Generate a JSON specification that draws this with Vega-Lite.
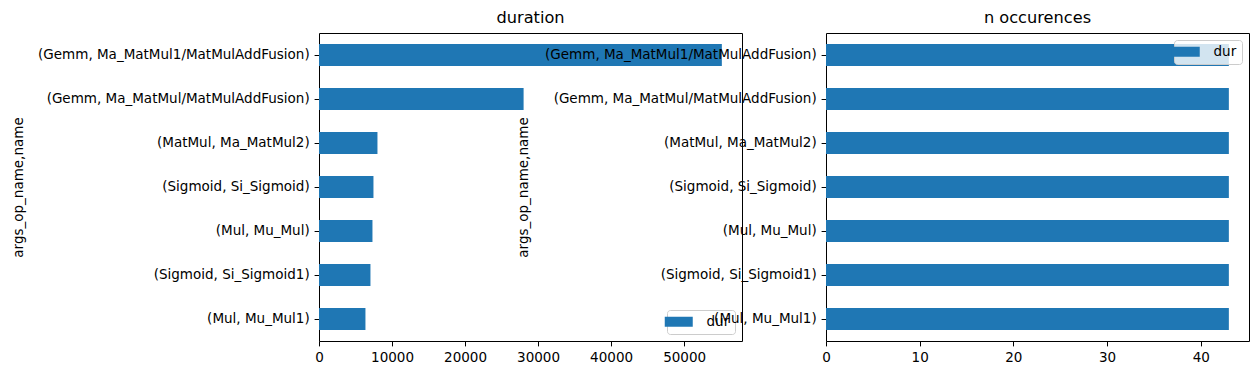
{
  "$schema": "https://vega.github.io/schema/vega-lite/v6.json",
  "autosize": {"type": "pad"},
  "padding": {"left": 10, "top": 9, "right": 5, "bottom": 5},
  "background": "white",
  "data": {
    "values": [
      {"op": "(Gemm, Ma_MatMul1/MatMulAddFusion)", "dur": 55170, "n": 43, "series": "dur"},
      {"op": "(Gemm, Ma_MatMul/MatMulAddFusion)", "dur": 28020, "n": 43, "series": "dur"},
      {"op": "(MatMul, Ma_MatMul2)", "dur": 8006, "n": 43, "series": "dur"},
      {"op": "(Sigmoid, Si_Sigmoid)", "dur": 7458, "n": 43, "series": "dur"},
      {"op": "(Mul, Mu_Mul)", "dur": 7321, "n": 43, "series": "dur"},
      {"op": "(Sigmoid, Si_Sigmoid1)", "dur": 7047, "n": 43, "series": "dur"},
      {"op": "(Mul, Mu_Mul1)", "dur": 6361, "n": 43, "series": "dur"}
    ]
  },
  "spacing": 84,
  "bounds": "flush",
  "hconcat": [
    {
      "width": 423,
      "height": 308,
      "title": {"text": "duration"},
      "mark": {"type": "bar"},
      "encoding": {
        "y": {"field": "op", "type": "nominal", "sort": null, "title": "args_op_name,name",
              "scale": {"paddingInner": 0.5, "paddingOuter": 0.25},
              "axis": {"titleX": -294}},
        "x": {"field": "dur", "type": "quantitative", "title": null,
              "scale": {"domain": [0, 57930], "nice": false, "zero": true},
              "axis": {"values": [0, 10000, 20000, 30000, 40000, 50000], "format": "d"}},
        "color": {"field": "series", "type": "nominal", "title": null,
                  "scale": {"range": ["#1f77b4"]},
                  "legend": {"orient": "bottom-right"}}
      }
    },
    {
      "width": 423,
      "height": 308,
      "title": {"text": "n occurences"},
      "mark": {"type": "bar"},
      "encoding": {
        "y": {"field": "op", "type": "nominal", "sort": null, "title": "args_op_name,name",
              "scale": {"paddingInner": 0.5, "paddingOuter": 0.25},
              "axis": {"titleX": -296}},
        "x": {"field": "n", "type": "quantitative", "title": null,
              "scale": {"domain": [0, 45.15], "nice": false, "zero": true},
              "axis": {"values": [0, 10, 20, 30, 40], "format": "d"}},
        "color": {"field": "series", "type": "nominal", "title": null,
                  "scale": {"range": ["#1f77b4"]},
                  "legend": {"orient": "top-right"}}
      }
    }
  ],
  "resolve": {"scale": {"color": "independent", "y": "independent", "x": "independent"}, "legend": {"color": "independent"}},
  "config": {
    "font": "DejaVu Sans",
    "view": {"stroke": "black", "strokeWidth": 1},
    "bar": {"color": "#1f77b4"},
    "title": {"fontSize": 16.2, "fontWeight": "normal", "color": "black", "font": "DejaVu Sans", "offset": 7, "anchor": "middle"},
    "axis": {
      "domain": false,
      "grid": false,
      "tickColor": "black",
      "tickSize": 4.9,
      "tickWidth": 1,
      "labelFont": "DejaVu Sans",
      "labelFontSize": 13.5,
      "labelColor": "black",
      "labelPadding": 4.9,
      "titleFont": "DejaVu Sans",
      "titleFontSize": 13.5,
      "titleFontWeight": "normal",
      "titleColor": "black",
      "titlePadding": 6,
      "labelOverlap": false,
      "labelFlush": false,
      "labelLimit": 400
    },
    "legend": {
      "fillColor": "rgba(255,255,255,0.8)",
      "strokeColor": "#cccccc",
      "cornerRadius": 3,
      "padding": 5,
      "offset": 7,
      "labelFont": "DejaVu Sans",
      "labelFontSize": 13.5,
      "labelColor": "black",
      "labelOffset": 21,
      "symbolType": "M-2.8,-1H2.8V1H-2.8Z",
      "symbolSize": 100,
      "symbolStrokeWidth": 0,
      "symbolOpacity": 1
    }
  }
}
